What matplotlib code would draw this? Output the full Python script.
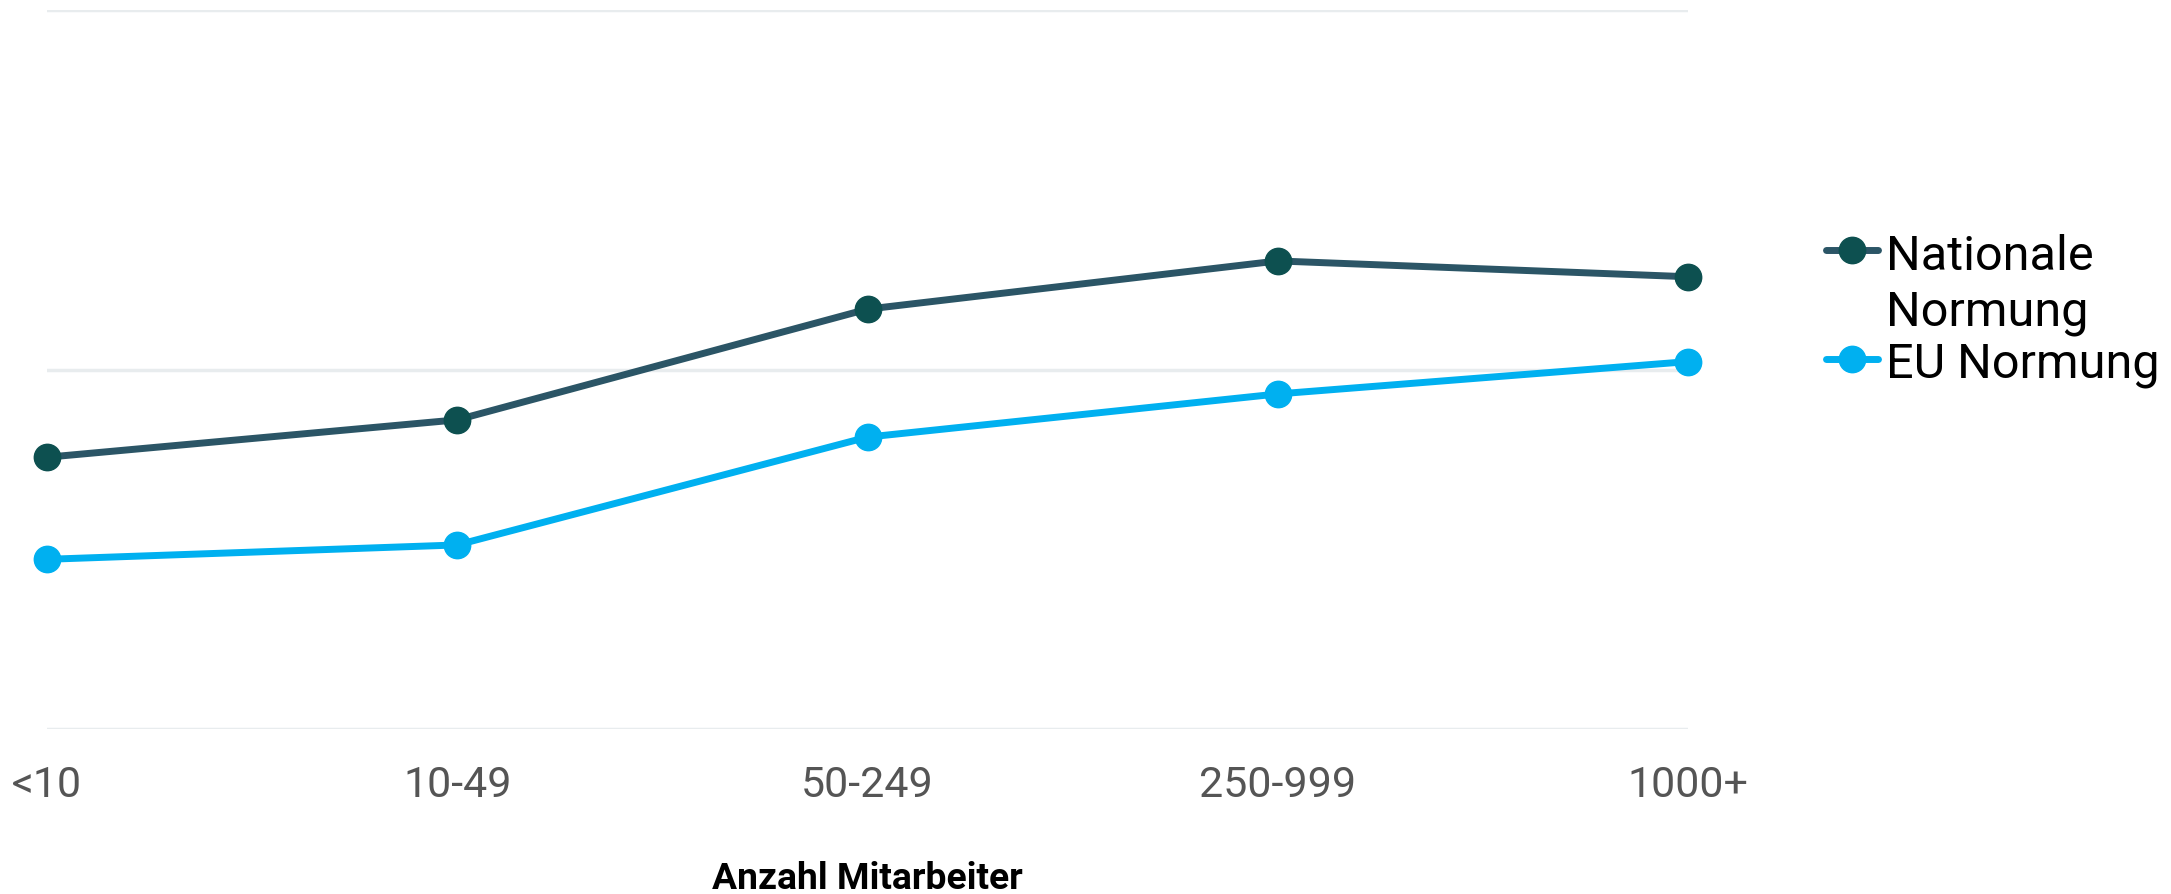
import matplotlib
matplotlib.use('Agg')
import matplotlib.pyplot as plt
from matplotlib.lines import Line2D

plt.rcParams['font.family'] = ['Roboto', 'DejaVu Sans']

groessen = ['<10', '10-49', '50-249', '250-999', '1000+']
national = [37.8, 43.0, 58.4, 65.1, 62.9]
eu = [23.6, 25.6, 40.6, 46.6, 51.1]

col_nat_line = '#2b5566'
col_nat_mark = '#0d5050'
col_eu = '#00b0f0'

fig = plt.figure(figsize=(21.71, 8.95), dpi=100)
ax = fig.add_axes([47 / 2171, 1 - 730 / 895, (1688 - 47) / 2171, (730 - 11) / 895])

x = range(len(groessen))
ax.plot(x, national, color=col_nat_line, lw=5, marker='o', ms=19,
        mfc=col_nat_mark, mec=col_nat_mark, clip_on=False, zorder=3)
ax.plot(x, eu, color=col_eu, lw=5, marker='o', ms=19,
        mfc=col_eu, mec=col_eu, clip_on=False, zorder=3)

ax.set_xlim(0, len(groessen) - 1)
ax.set_ylim(0, 100)
ax.set_yticks([0, 50, 100])
ax.set_yticklabels([])
ax.grid(axis='y', color='#e8ecee', lw=2.5)
ax.set_axisbelow(True)
ax.set_xticks(list(x))
ax.set_xticklabels(groessen, fontsize=31, color='#555555')
ax.tick_params(length=0, pad=25)
ax.tick_params(axis='y', left=False)
for s in ax.spines.values():
    s.set_visible(False)
ax.set_xlabel('Anzahl Mitarbeiter', fontsize=26.8, fontweight='bold', labelpad=40)

# legende rechts, von hand
def handle(y, lc, mc):
    yf = 1 - y / 895
    fig.add_artist(Line2D([1826 / 2171, 1878 / 2171], [yf, yf], color=lc, lw=5,
                          solid_capstyle='round', transform=fig.transFigure))
    fig.add_artist(Line2D([1852 / 2171], [yf], marker='o', ms=19, color=mc,
                          transform=fig.transFigure))

handle(251, col_nat_line, col_nat_mark)
handle(360, col_eu, col_eu)
fig.text(1886 / 2171, 1 - 270 / 895, 'Nationale', fontsize=35, va='baseline')
fig.text(1886 / 2171, 1 - 325 / 895, 'Normung', fontsize=35, va='baseline')
fig.text(1886 / 2171, 1 - 378 / 895, 'EU Normung', fontsize=35, va='baseline')

plt.savefig('out.png', dpi=100)
